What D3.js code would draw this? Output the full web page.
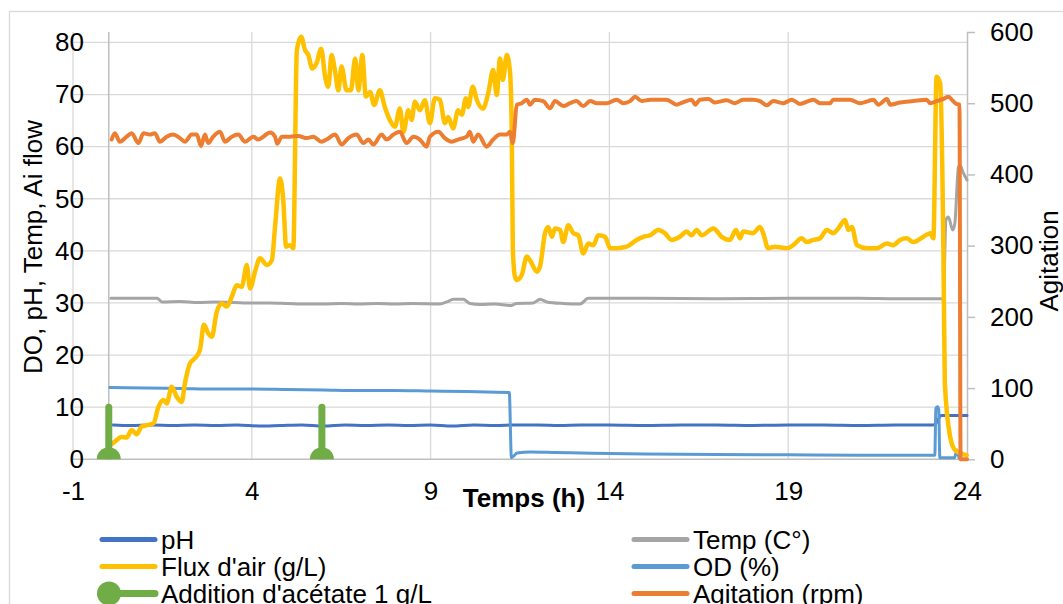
<!DOCTYPE html>
<html>
<head>
<meta charset="utf-8">
<script src="https://cdn.jsdelivr.net/npm/d3@7"></script>
<style>
  body { margin: 0; background: #fff; }
  svg { display: block; }
  text { font-family: "Liberation Sans", Arial, sans-serif; fill: #000; }
</style>
</head>
<body>
<svg id="chart" width="1063" height="604"></svg>
<script>
// Axis ticks
const timeTicks = [-1, 4, 9, 14, 19, 24];
const leftTicks = [0, 10, 20, 30, 40, 50, 60, 70, 80];
const rightTicks = [0, 100, 200, 300, 400, 500, 600];

// Series: [time (h), value]
const phSeries = [[0.12,6.6],[0.6,6.5],[1.2,6.6],[1.8,6.5],[2.4,6.6],[3.0,6.5],[3.6,6.6],[4.2,6.4],[4.8,6.5],[5.4,6.6],[6.0,6.4],[6.6,6.6],[7.2,6.5],[7.8,6.6],[8.4,6.5],[9.0,6.6],[9.6,6.4],[10.2,6.6],[10.8,6.5],[11.4,6.6],[12.0,6.6],[12.6,6.5],[13.2,6.6],[14,6.6],[15,6.5],[16,6.6],[17,6.6],[18,6.5],[19,6.6],[20,6.6],[21,6.5],[22,6.6],[23.05,6.6],[23.12,6.8],[23.28,8.4],[24,8.4]];

const tempSeries = [[0.06,30.9],[0.8,30.9],[1.35,30.9],[1.49,30.2],[2,30.3],[2.5,30.1],[3,30.2],[3.5,30.1],[4,30.0],[4.5,30.0],[5,29.9],[5.5,29.8],[6,29.8],[6.5,29.9],[7,29.8],[7.5,29.9],[8,29.8],[8.5,29.9],[9.26,29.8],[9.45,30.2],[9.64,30.7],[9.91,30.7],[10.10,29.9],[10.38,29.7],[10.8,29.8],[11.22,29.5],[11.41,29.9],[11.87,30.0],[12.06,30.7],[12.25,30.2],[12.71,29.9],[13.18,29.8],[13.41,30.9],[15,30.9],[17,30.8],[19,30.9],[21,30.9],[22,30.8],[23.34,30.8],[23.41,45.9],[23.48,46.5],[23.60,44.0],[23.66,45.3],[23.76,56.1],[23.80,56.5],[23.90,54.9],[24.0,53.6]];

const airFlowSeries = [[0.03,2.7],[0.17,3.4],[0.36,4.3],[0.50,4.2],[0.64,5.6],[0.78,4.8],[0.92,6.3],[1.11,6.6],[1.25,6.9],[1.39,10.1],[1.53,11.4],[1.62,10.7],[1.76,13.9],[1.90,12.0],[2.04,11.0],[2.13,14.6],[2.27,18.4],[2.41,19.4],[2.55,21.0],[2.66,25.8],[2.78,24.2],[2.88,23.5],[3.02,28.3],[3.16,29.9],[3.30,29.3],[3.44,31.2],[3.58,33.4],[3.72,33.1],[3.86,37.3],[3.95,32.8],[4.09,36.0],[4.23,38.6],[4.42,37.3],[4.56,38.2],[4.65,44.6],[4.79,53.9],[4.88,49.7],[4.96,40.8],[5.07,41.1],[5.16,40.5],[5.26,78.5],[5.38,81.1],[5.49,78.5],[5.58,77.6],[5.69,75.0],[5.81,76.0],[5.94,78.8],[6.05,73.4],[6.14,71.5],[6.23,77.6],[6.33,74.4],[6.42,70.8],[6.51,75.4],[6.65,70.8],[6.77,70.8],[6.89,76.9],[6.98,70.8],[7.09,77.6],[7.19,69.6],[7.31,70.5],[7.42,68.0],[7.58,70.8],[7.72,67.6],[7.86,65.1],[8.00,63.8],[8.14,67.3],[8.24,62.8],[8.38,67.0],[8.47,65.1],[8.56,68.6],[8.70,67.0],[8.84,68.9],[8.98,64.5],[9.12,69.3],[9.26,69.0],[9.40,64.5],[9.49,65.7],[9.63,63.5],[9.77,67.0],[9.87,66.1],[9.99,69.3],[10.05,67.6],[10.18,71.5],[10.29,69.0],[10.46,67.3],[10.61,70.2],[10.75,74.7],[10.85,69.9],[10.94,76.9],[11.02,72.8],[11.13,77.6],[11.22,74.4],[11.27,62.5],[11.30,40.2],[11.36,35.0],[11.41,34.4],[11.55,35.4],[11.69,38.9],[11.78,38.2],[11.97,36.0],[12.06,37.0],[12.20,43.4],[12.29,44.6],[12.39,42.7],[12.48,44.3],[12.62,44.0],[12.71,41.7],[12.85,44.9],[12.99,43.4],[13.13,43.0],[13.27,39.5],[13.41,41.4],[13.55,41.1],[13.69,43.0],[13.88,42.7],[14.02,40.5],[14.20,40.5],[14.48,40.8],[14.76,42.1],[14.95,42.7],[15.14,43.0],[15.37,44.0],[15.55,43.4],[15.74,42.1],[15.97,42.7],[16.16,43.7],[16.30,43.0],[16.44,44.0],[16.58,43.0],[16.91,44.3],[17.14,42.7],[17.37,42.1],[17.54,44.0],[17.65,42.4],[17.74,43.7],[18.02,43.4],[18.21,44.6],[18.30,43.4],[18.44,40.5],[18.63,40.8],[18.96,40.5],[19.14,41.1],[19.38,42.4],[19.52,41.7],[19.70,42.1],[19.89,42.4],[20.08,44.0],[20.26,43.4],[20.40,44.3],[20.59,45.9],[20.68,44.0],[20.78,44.6],[20.92,41.1],[21.20,40.5],[21.48,40.5],[21.76,41.4],[21.94,41.1],[22.13,42.1],[22.31,42.4],[22.50,41.7],[22.78,42.7],[22.97,43.4],[23.06,42.4],[23.15,73.4],[23.25,72.1],[23.34,40.2],[23.38,14.6],[23.53,4.3],[23.66,1.8],[23.80,1.2],[23.99,0.8]];

const odSeries = [[0.03,13.8],[1,13.7],[2,13.6],[3,13.5],[4,13.5],[5,13.4],[6,13.3],[7,13.2],[8,13.2],[9,13.1],[10,13.0],[11.2,12.8],[11.26,0.3],[11.42,1.2],[11.8,1.4],[12.5,1.3],[13.5,1.15],[15,1.0],[17,0.9],[19,0.85],[21,0.8],[23.1,0.8],[23.13,9.8],[23.18,10.1],[23.21,9.5],[23.24,0.3],[23.65,0.3],[23.72,1.8],[23.78,0.3],[23.85,0.0]];

const acetateTimes = [0, 5.96];
const acetateDose = 10;

const agitationSeries = [[0.08,449],[0.17,458],[0.31,446],[0.50,453],[0.64,458],[0.83,444],[0.97,458],[1.15,456],[1.29,458],[1.43,446],[1.62,453],[1.80,456],[1.99,451],[2.13,446],[2.32,456],[2.46,456],[2.58,440],[2.69,456],[2.78,444],[2.92,453],[3.11,460],[3.25,446],[3.44,453],[3.62,456],[3.81,446],[4.04,453],[4.18,449],[4.32,453],[4.51,459],[4.65,453],[4.71,443],[4.84,453],[5.07,453],[5.30,454],[5.54,451],[5.72,453],[5.95,446],[6.09,449],[6.33,456],[6.51,442],[6.70,451],[6.93,456],[7.12,444],[7.26,449],[7.40,442],[7.63,456],[7.77,449],[7.96,456],[8.14,460],[8.33,444],[8.52,453],[8.70,449],[8.89,439],[8.98,453],[9.22,460],[9.40,451],[9.59,446],[9.77,449],[10.01,453],[10.10,460],[10.19,446],[10.33,456],[10.57,439],[10.75,449],[10.94,456],[11.13,456],[11.22,460],[11.30,444],[11.41,498],[11.55,500],[11.69,505],[11.78,498],[11.92,505],[12.15,503],[12.34,493],[12.48,503],[12.71,496],[12.90,500],[13.08,503],[13.27,496],[13.46,503],[13.65,500],[13.92,500],[14.20,505],[14.39,500],[14.58,503],[14.72,509],[14.90,503],[15.14,505],[15.42,505],[15.60,505],[15.88,498],[16.09,502],[16.30,505],[16.40,498],[16.53,505],[16.77,506],[16.95,501],[17.28,504],[17.51,500],[17.74,505],[18.02,505],[18.21,503],[18.40,497],[18.58,503],[18.86,500],[19.10,505],[19.33,499],[19.56,503],[19.70,505],[19.89,500],[20.17,500],[20.26,505],[20.50,505],[20.73,505],[21.01,500],[21.24,503],[21.38,505],[21.52,498],[21.76,506],[21.85,498],[22.13,501],[22.50,503],[22.87,505],[22.97,500],[23.15,503],[23.34,506],[23.48,509],[23.61,503],[23.71,499],[23.79,498],[23.82,0],[24.0,0]];

// Legend entries (two columns, row-major)
const legendItems = [
  { label: "pH", color: "#4472C4", kind: "line" },
  { label: "Temp (C°)", color: "#A5A5A5", kind: "line" },
  { label: "Flux d'air (g/L)", color: "#FFC000", kind: "line" },
  { label: "OD (%)", color: "#5B9BD5", kind: "line" },
  { label: "Addition d'acétate 1 g/L", color: "#70AD47", kind: "marker" },
  { label: "Agitation (rpm)", color: "#ED7D31", kind: "line" }
];

const svg = d3.select("#chart");
const plot = { left: 73, right: 967, top: 32, bottom: 459.3 };

const x = d3.scaleLinear().domain([-1, 24]).range([plot.left, plot.right]);
const yL = d3.scaleLinear().domain([0, 82]).range([plot.bottom, plot.top]);
const yR = d3.scaleLinear().domain([0, 600]).range([plot.bottom, plot.top]);

// Plain hyphen-minus for negative tick values
const plainNumber = d => String(d);

// Chart frame
svg.append("rect")
  .attr("x", 9.5).attr("y", 11.5).attr("width", 1100).attr("height", 700)
  .attr("fill", "#fff").attr("stroke", "#d9d9d9").attr("stroke-width", 1.3);

svg.append("defs").append("clipPath").attr("id", "plotClip")
  .append("rect")
  .attr("x", plot.left).attr("y", plot.top)
  .attr("width", plot.right - plot.left).attr("height", plot.bottom - plot.top);

// Gridlines
const grid = svg.append("g");
grid.selectAll("line.h").data(leftTicks.filter(d => d > 0)).join("line")
  .attr("x1", plot.left).attr("x2", plot.right)
  .attr("y1", d => yL(d)).attr("y2", d => yL(d))
  .attr("stroke", "#d9d9d9").attr("stroke-width", 1.3);
grid.selectAll("line.v").data(timeTicks.filter(d => d < 24)).join("line")
  .attr("x1", d => x(d)).attr("x2", d => x(d))
  .attr("y1", plot.top).attr("y2", plot.bottom)
  .attr("stroke", "#d9d9d9").attr("stroke-width", 1.3);

// Axis lines: value axis crosses at t = 0
svg.append("line")
  .attr("x1", x(0)).attr("x2", x(0)).attr("y1", plot.top).attr("y2", plot.bottom)
  .attr("stroke", "#bfbfbf").attr("stroke-width", 1.5);
svg.append("line")
  .attr("x1", plot.left).attr("x2", plot.right).attr("y1", yL(0)).attr("y2", yL(0))
  .attr("stroke", "#bfbfbf").attr("stroke-width", 1.5);

// Left tick labels
const leftAxis = svg.append("g")
  .attr("transform", `translate(84,0)`)
  .call(d3.axisLeft(yL).tickValues(leftTicks).tickSize(0).tickPadding(0).tickFormat(plainNumber));
leftAxis.select(".domain").remove();
leftAxis.selectAll("text").attr("font-size", 26).attr("font-family", null).attr("fill", "#000");

// Bottom tick labels
const bottomAxis = svg.append("g")
  .attr("transform", `translate(0,${plot.bottom})`)
  .call(d3.axisBottom(x).tickValues(timeTicks).tickSize(0).tickPadding(22).tickFormat(plainNumber));
bottomAxis.select(".domain").remove();
bottomAxis.selectAll("text").attr("font-size", 26).attr("font-family", null).attr("fill", "#000");

// Right (agitation) axis
const rightAxis = svg.append("g")
  .attr("transform", `translate(${plot.right},0)`)
  .call(d3.axisRight(yR).tickValues(rightTicks).tickSize(8).tickSizeOuter(0).tickPadding(15).tickFormat(plainNumber));
rightAxis.select(".domain").attr("stroke", "#bfbfbf").attr("stroke-width", 1.5);
rightAxis.selectAll(".tick line").attr("stroke", "#bfbfbf").attr("stroke-width", 1.5);
rightAxis.selectAll("text").attr("font-size", 26).attr("font-family", null).attr("fill", "#000");

// Axis titles
svg.append("text")
  .attr("transform", "translate(42,247) rotate(-90)")
  .attr("text-anchor", "middle").attr("font-size", 26)
  .text("DO, pH, Temp, Ai flow");
svg.append("text")
  .attr("transform", "translate(1058,261) rotate(-90)")
  .attr("text-anchor", "middle").attr("font-size", 26)
  .text("Agitation");
svg.append("text")
  .attr("x", 524).attr("y", 507)
  .attr("text-anchor", "middle").attr("font-size", 26).attr("font-weight", "bold")
  .text("Temps (h)");

// Series lines
const lineLeft = d3.line().x(d => x(d[0])).y(d => yL(d[1])).curve(d3.curveMonotoneX);
const lineRight = d3.line().x(d => x(d[0])).y(d => yR(d[1])).curve(d3.curveMonotoneX);

const series = svg.append("g");
function drawSeries(data, gen, color, width) {
  series.append("path").datum(data)
    .attr("d", gen).attr("fill", "none")
    .attr("stroke", color).attr("stroke-width", width)
    .attr("stroke-linejoin", "round").attr("stroke-linecap", "round");
}
drawSeries(phSeries, lineLeft, "#4472C4", 3);
drawSeries(tempSeries, lineLeft, "#A5A5A5", 3);
drawSeries(odSeries, lineLeft, "#5B9BD5", 3);
drawSeries(airFlowSeries, lineLeft, "#FFC000", 4.5);

// Acetate additions: stem up to the dose, marker at the baseline
const acetate = svg.append("g").attr("clip-path", "url(#plotClip)");
acetate.selectAll("line").data(acetateTimes).join("line")
  .attr("x1", d => x(d)).attr("x2", d => x(d))
  .attr("y1", yL(0)).attr("y2", yL(acetateDose))
  .attr("stroke", "#70AD47").attr("stroke-width", 7).attr("stroke-linecap", "round");
acetate.selectAll("circle").data(acetateTimes).join("circle")
  .attr("cx", d => x(d)).attr("cy", yL(0)).attr("r", 12)
  .attr("fill", "#70AD47");

drawSeries(agitationSeries, lineRight, "#ED7D31", 4);

// Legend
const legend = svg.append("g");
const colX = [102, 634];
const rowY = [539.5, 566.5, 593.5];
legendItems.forEach((item, i) => {
  const cx = colX[i % 2], cy = rowY[Math.floor(i / 2)];
  const g = legend.append("g");
  g.append("line")
    .attr("x1", cx).attr("x2", cx + 53).attr("y1", cy).attr("y2", cy)
    .attr("stroke", item.color).attr("stroke-width", item.kind === "marker" ? 7 : 5)
    .attr("stroke-linecap", "round");
  if (item.kind === "marker") {
    g.append("circle").attr("cx", cx + 7).attr("cy", cy).attr("r", 12).attr("fill", item.color);
  }
  g.append("text")
    .attr("x", cx + 59).attr("y", cy).attr("dy", "0.35em")
    .attr("font-size", 26)
    .text(item.label);
});
</script>
</body>
</html>
